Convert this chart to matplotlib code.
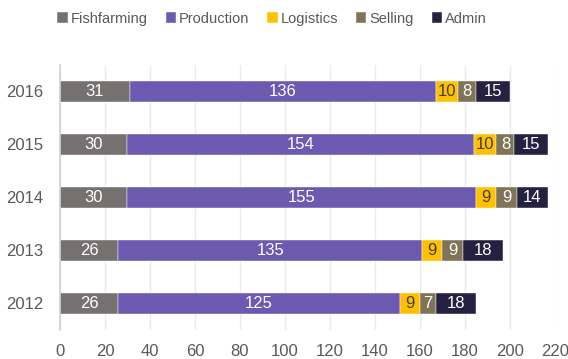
import matplotlib.pyplot as plt
import numpy as np

years = ['2012', '2013', '2014', '2015', '2016']
segments = ['Fishfarming', 'Production', 'Logistics', 'Selling', 'Admin']
fishfarming = [26, 26, 30, 30, 31]
production = [125, 135, 155, 154, 136]
logistics = [9, 9, 9, 10, 10]
selling = [7, 9, 9, 8, 8]
admin = [18, 18, 14, 15, 15]

colors = ['#767171', '#6B5AAF', '#FFC000', '#7F7458', '#262140']
text_colors = ['white', 'white', '#404040', 'white', 'white']
x_ticks = list(range(0, 221, 20))

plt.rcParams['font.family'] = ['Liberation Sans', 'DejaVu Sans']

fig = plt.figure(figsize=(5.68, 3.59), dpi=100)
ax = fig.add_axes([0.1056, 0.081, 0.8714, 0.738])

y = np.arange(len(years))
left = np.zeros(len(years))
series = [fishfarming, production, logistics, selling, admin]
for name, vals, col, tcol in zip(segments, series, colors, text_colors):
    vals = np.array(vals)
    bars = ax.barh(y, vals, left=left, height=0.4, color=col, label=name,
                   edgecolor='white', linewidth=0.3, zorder=2)
    ax.bar_label(bars, labels=[str(v) for v in vals], label_type='center',
                 color=tcol, fontsize=12)
    left += vals

ax.set_yticks(y)
ax.set_yticklabels(years)
ax.set_xticks(x_ticks)
ax.set_xlim(0, 220)
ax.set_ylim(-0.5, 4.5)

ax.grid(axis='x', color='#EBEBEB', linewidth=1, zorder=0)
for side in ['top', 'right', 'bottom']:
    ax.spines[side].set_visible(False)
ax.spines['left'].set_color('#D0D0D0')
ax.spines['left'].set_linewidth(1.2)
ax.tick_params(axis='both', length=0, labelsize=12, labelcolor='#595959')
ax.tick_params(axis='x', pad=10)
ax.tick_params(axis='y', pad=12)

ax.legend(loc='center', bbox_to_anchor=(0.479, 0.948), bbox_transform=fig.transFigure,
          ncol=5, frameon=False, fontsize=10.5, handlelength=0.7, handleheight=0.7,
          handletextpad=0.2, columnspacing=1.25, labelcolor='#595959')

fig.savefig('out.png', dpi=100)
